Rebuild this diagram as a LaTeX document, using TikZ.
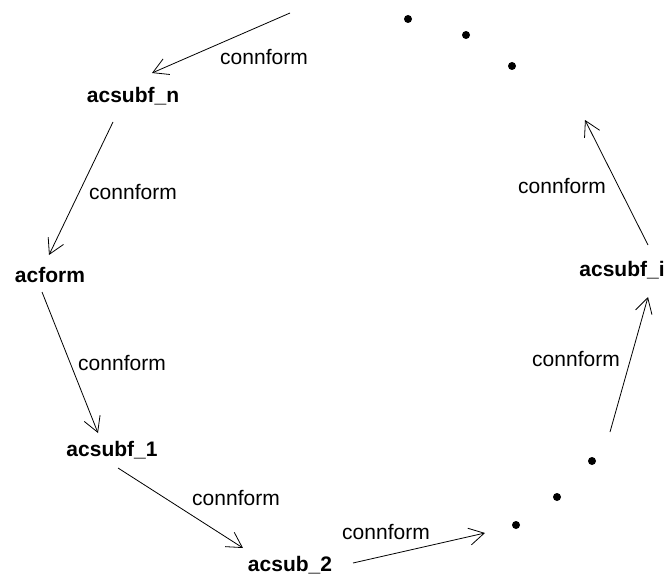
\documentclass[tikz,border=0pt]{standalone}
\usepackage{fontspec}
\setmainfont{Liberation Sans}
\usetikzlibrary{arrows.meta}

\begin{document}
\begin{tikzpicture}[x=1pt,y=-1pt,
  form/.style={font=\fontsize{21}{25}\selectfont\bfseries, inner sep=0pt},
  lbl/.style={font=\fontsize{21}{25}\selectfont, inner sep=0pt},
  conn/.style={line width=0.8pt, -{Straight Barb[length=15pt,width=17pt]}},
  dot/.style={circle, fill=black, inner sep=0pt, minimum size=8pt}]
\useasboundingbox (0,0) rectangle (669,578);
% forms
\node[form] (acsubfn) at (133,96) {acsubf\_n};
\node[form] (acform) at (50,275) {acform};
\node[form] (acsubf1) at (112,450) {acsubf\_1};
\node[form] (acsub2) at (290,565) {acsub\_2};
\node[form] (acsubfi) at (622,270) {acsubf\_i};
% free ends
\coordinate (topin) at (290,13);
\coordinate (botout) at (485,533);
\coordinate (botin) at (610,432);
\coordinate (topout) at (585,120);
% dots
\node[dot] (d1) at (408,19) {};
\node[dot] (d2) at (466,35) {};
\node[dot] (d3) at (512,66) {};
\node[dot] (d4) at (592,461) {};
\node[dot] (d5) at (557,497) {};
\node[dot] (d6) at (516,525) {};
% connectors
\draw[conn] (topin) -- ([shift={(19,-23)}]acsubfn.center);
\draw[conn] ([shift={(-20,26)}]acsubfn.center) -- ([shift={(-1,-20)}]acform.center);
\draw[conn] ([shift={(-8,17)}]acform.center) -- ([shift={(-14,-17)}]acsubf1.center);
\draw[conn] ([shift={(6,18)}]acsubf1.center) -- ([shift={(-47,-17)}]acsub2.center);
\draw[conn] ([shift={(63,-2)}]acsub2.center) -- (botout);
\draw[conn] (botin) -- ([shift={(26,27)}]acsubfi.center);
\draw[conn] ([shift={(26,-25)}]acsubfi.center) -- (topout);
% labels
\node[lbl] (l1) at (264,57) {connform};
\node[lbl] (l2) at (133,192) {connform};
\node[lbl] (l3) at (122,363) {connform};
\node[lbl] (l4) at (236,498) {connform};
\node[lbl] (l5) at (386,532) {connform};
\node[lbl] (l6) at (576,359) {connform};
\node[lbl] (l7) at (562,186) {connform};
\end{tikzpicture}
\end{document}
